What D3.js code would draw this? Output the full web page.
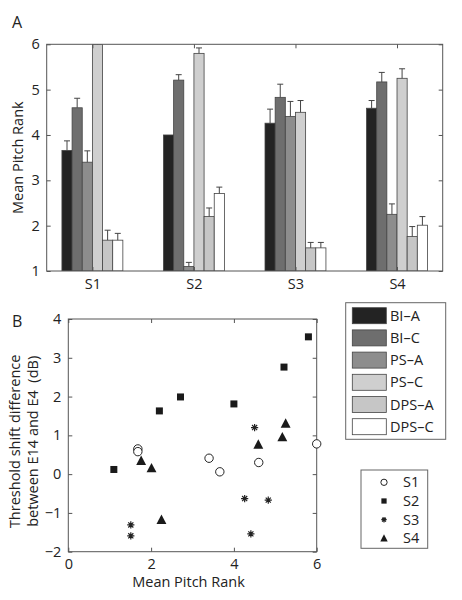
<!DOCTYPE html>
<html><head><meta charset="utf-8">
<script src="https://cdn.jsdelivr.net/npm/d3@7"></script>
<style>body{margin:0;background:#fff}svg{display:block}text{font-family:"Open Sans",sans-serif;fill:#222}</style>
</head><body><svg id="c" width="462" height="600"></svg>
<script>
// ---------- data ----------
const subjects = ["S1","S2","S3","S4"];
const conditions = ["BI\u2013A","BI\u2013C","PS\u2013A","PS\u2013C","DPS\u2013A","DPS\u2013C"];
const condColors = ["#232323","#6e6e6e","#8d8d8d","#cfcfcf","#c6c6c6","#ffffff"];
// mean pitch rank per subject (rows) and condition (cols)
const meanS1 = [3.66, 4.60, 3.40, 6.00, 1.68, 1.68];
const meanS2 = [4.00, 5.21, 1.10, 5.80, 2.20, 2.71];
const meanS3 = [4.26, 4.83, 4.41, 4.50, 1.51, 1.51];
const meanS4 = [4.59, 5.17, 2.25, 5.25, 1.76, 2.01];
// upper error (top of error bar)
const errS1 = [3.87, 4.81, 3.65, 6.20, 1.90, 1.83];
const errS2 = [4.00, 5.33, 1.19, 5.92, 2.39, 2.85];
const errS3 = [4.57, 5.12, 4.74, 4.76, 1.63, 1.63];
const errS4 = [4.76, 5.38, 2.48, 5.46, 1.98, 2.20];
const barYTicks = [1,2,3,4,5,6];
// scatter: threshold shift difference vs mean pitch rank
const shiftS1 = [0.06, 0.30, 0.41, 0.78, 0.65, 0.58];
const shiftS2 = [1.81, 2.76, 0.12, 3.54, 1.63, 1.99];
const shiftS3 = [-0.63, -0.67, -1.54, 1.20, -1.31, -1.59];
const shiftS4 = [0.76, 0.95, -1.18, 1.30, 0.34, 0.15];
const scatterXTicks = [0,2,4,6];
const scatterYTicks = [-2,-1,0,1,2,3,4];
const markers = ["circle","square","asterisk","triangle"];

const means = [meanS1, meanS2, meanS3, meanS4];
const errs = [errS1, errS2, errS3, errS4];
const shifts = [shiftS1, shiftS2, shiftS3, shiftS4];

const svg = d3.select("#c");
const fmt = v => v < 0 ? "\u2212" + Math.abs(v) : String(v);
const axisColor = "#555";
const FS = 14.5;

// ---------- Panel A ----------
const xA = d3.scaleLinear().domain([0.55, 4.45]).range([46.7, 442.7]);
const yA = d3.scaleLinear().domain([1, 6]).range([271, 44.3]);
const barW = 0.1;
const gA = svg.append("g");
gA.append("clipPath").attr("id","clipA").append("rect")
  .attr("x", xA(0.55)).attr("y", yA(6)).attr("width", xA(4.45)-xA(0.55)).attr("height", yA(1)-yA(6));
const plotA = gA.append("g").attr("clip-path","url(#clipA)");
subjects.forEach((s, i) => {
  conditions.forEach((c, j) => {
    const cx = (i+1) + (j - 2.5) * barW;
    const x0 = xA(cx - barW/2), x1 = xA(cx + barW/2);
    plotA.append("rect").attr("x", x0).attr("width", x1 - x0)
      .attr("y", yA(means[i][j])).attr("height", yA(1) - yA(means[i][j]))
      .attr("fill", condColors[j]).attr("stroke", "#444").attr("stroke-width", 0.8);
    if (errs[i][j] > means[i][j]) {
      const mx = xA(cx);
      plotA.append("path")
        .attr("d", `M${mx},${yA(means[i][j])}V${yA(errs[i][j])}M${mx-3},${yA(errs[i][j])}H${mx+3}`)
        .attr("stroke", "#444").attr("stroke-width", 1).attr("fill","none");
    }
  });
});
// frame
gA.append("rect").attr("x", xA(0.55)).attr("y", yA(6)).attr("width", xA(4.45)-xA(0.55)).attr("height", yA(1)-yA(6))
  .attr("fill","none").attr("stroke", axisColor).attr("stroke-width", 1);
const axA_L = gA.append("g").attr("transform", `translate(${xA(0.55)},0)`)
  .call(d3.axisLeft(yA).tickValues(barYTicks).tickSize(-4).tickPadding(7).tickFormat(fmt));
const axA_R = gA.append("g").attr("transform", `translate(${xA(4.45)},0)`)
  .call(d3.axisRight(yA).tickValues(barYTicks).tickSize(-4).tickFormat(""));
const axA_B = gA.append("g").attr("transform", `translate(0,${yA(1)})`)
  .call(d3.axisBottom(xA).tickValues([1,2,3,4]).tickSize(-4).tickPadding(8).tickFormat((d,i)=>subjects[i]));
const axA_T = gA.append("g").attr("transform", `translate(0,${yA(6)})`)
  .call(d3.axisTop(xA).tickValues([1,2,3,4]).tickSize(-4).tickFormat(""));
[axA_L, axA_R, axA_B, axA_T].forEach(a => {
  a.select(".domain").remove();
  a.selectAll("line").attr("stroke", axisColor);
  a.selectAll("text").attr("font-size", FS).attr("fill","#222").style("font-family","'Open Sans',sans-serif");
});
gA.append("text").attr("transform", `translate(23,${(yA(1)+yA(6))/2}) rotate(-90)`)
  .attr("text-anchor","middle").attr("font-size", FS).text("Mean Pitch Rank");
gA.append("text").attr("x", 12).attr("y", 28).attr("font-size", 16).text("A");

// ---------- Panel B ----------
const xB = d3.scaleLinear().domain([0, 6]).range([68.3, 316.7]);
const yB = d3.scaleLinear().domain([-2, 4]).range([551.7, 319]);
const gB = svg.append("g");
gB.append("rect").attr("x", xB(0)).attr("y", yB(4)).attr("width", xB(6)-xB(0)).attr("height", yB(-2)-yB(4))
  .attr("fill","none").attr("stroke", axisColor).attr("stroke-width", 1);
const axB_L = gB.append("g").attr("transform", `translate(${xB(0)},0)`)
  .call(d3.axisLeft(yB).tickValues(scatterYTicks).tickSize(-4).tickPadding(7).tickFormat(fmt));
const axB_R = gB.append("g").attr("transform", `translate(${xB(6)},0)`)
  .call(d3.axisRight(yB).tickValues(scatterYTicks).tickSize(-4).tickFormat(""));
const axB_B = gB.append("g").attr("transform", `translate(0,${yB(-2)})`)
  .call(d3.axisBottom(xB).tickValues(scatterXTicks).tickSize(-4).tickPadding(7).tickFormat(fmt));
const axB_T = gB.append("g").attr("transform", `translate(0,${yB(4)})`)
  .call(d3.axisTop(xB).tickValues(scatterXTicks).tickSize(-4).tickFormat(""));
[axB_L, axB_R, axB_B, axB_T].forEach(a => {
  a.select(".domain").remove();
  a.selectAll("line").attr("stroke", axisColor);
  a.selectAll("text").attr("font-size", FS).attr("fill","#222").style("font-family","'Open Sans',sans-serif");
});
gB.append("text").attr("x", (xB(0)+xB(6))/2 - 4).attr("y", 587).attr("text-anchor","middle").attr("font-size", FS).text("Mean Pitch Rank");
const yMid = (yB(-2)+yB(4))/2 + 6;
gB.append("text").attr("transform", `translate(20,${yMid}) rotate(-90)`)
  .attr("text-anchor","middle").attr("font-size", FS).text("Threshold shift difference");
gB.append("text").attr("transform", `translate(38,${yMid}) rotate(-90)`)
  .attr("text-anchor","middle").attr("font-size", FS).attr("xml:space","preserve").text("between E14 and E4  (dB)");
gB.append("text").attr("x", 12).attr("y", 327).attr("font-size", 16).text("B");

function drawMarker(g, type, x, y, scale) {
  const k = scale || 1;
  if (type === "circle") {
    g.append("circle").attr("cx", x).attr("cy", y).attr("r", 4.2*k).attr("fill","#fff").attr("stroke","#222").attr("stroke-width", 1);
  } else if (type === "square") {
    const s = 7*k;
    g.append("rect").attr("x", x-s/2).attr("y", y-s/2).attr("width", s).attr("height", s).attr("fill","#1a1a1a");
  } else if (type === "triangle") {
    const h = 9*k;
    g.append("path").attr("d", `M${x},${y-h*0.6}L${x+h*0.55},${y+h*0.45}L${x-h*0.55},${y+h*0.45}Z`).attr("fill","#1a1a1a");
  } else {
    const r = 3.6*k;
    let d = "";
    [0,45,90,135].forEach(a => {
      const rad = a*Math.PI/180, dx = r*Math.cos(rad), dy = r*Math.sin(rad);
      d += `M${x-dx},${y-dy}L${x+dx},${y+dy}`;
    });
    g.append("path").attr("d", d).attr("stroke","#222").attr("stroke-width", 1.2);
  }
}
subjects.forEach((s, i) => {
  means[i].forEach((m, j) => drawMarker(gB, markers[i], xB(m), yB(shifts[i][j])));
});

// ---------- Legends ----------
const lg1 = svg.append("g");
lg1.append("rect").attr("x", 345.7).attr("y", 302.7).attr("width", 100).attr("height", 136.6)
  .attr("fill","#fff").attr("stroke", "#666").attr("stroke-width", 1);
conditions.forEach((c, j) => {
  const cy = 315.7 + j*22.2;
  lg1.append("rect").attr("x", 352.3).attr("y", cy-8).attr("width", 34).attr("height", 16)
    .attr("fill", condColors[j]).attr("stroke","#444").attr("stroke-width", 0.8);
  lg1.append("text").attr("x", 390).attr("y", cy+5).attr("font-size", FS).text(c);
});
const lg2 = svg.append("g");
lg2.append("rect").attr("x", 361).attr("y", 470).attr("width", 66.7).attr("height", 78.3)
  .attr("fill","#fff").attr("stroke", "#666").attr("stroke-width", 1);
subjects.forEach((s, i) => {
  const cy = 482.3 + i*18.7;
  drawMarker(lg2, markers[i], 384, cy, 0.75);
  lg2.append("text").attr("x", 403).attr("y", cy+5).attr("font-size", FS).text(s);
});
</script></body></html>
